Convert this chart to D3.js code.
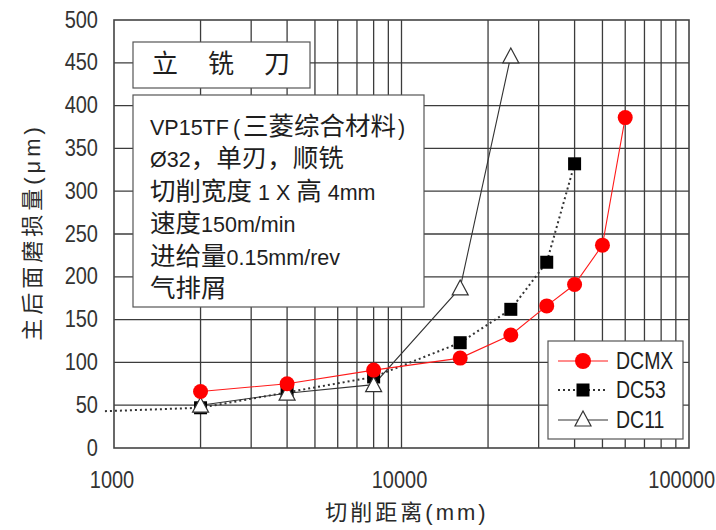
<!DOCTYPE html>
<html>
<head>
<meta charset="utf-8">
<script src="https://cdn.jsdelivr.net/npm/d3@7/dist/d3.min.js"></script>
<style>
  html, body { margin: 0; padding: 0; background: #fff; }
  svg { display: block; }
  text { white-space: pre; }
  .latin { font-family: "Liberation Sans", Arial, sans-serif; }
  .cjk { font-family: "Noto Sans CJK SC", sans-serif; }
  .mixed { font-family: "Liberation Sans", "Noto Sans CJK SC", sans-serif; }
</style>
</head>
<body>
<svg id="chart" width="716" height="530"></svg>
<script>
// Cutting distance (mm) and flank wear (μm) for three carbide grades
const distDCMX = [2000, 4000, 8000, 16000, 24000, 32000, 40000, 50000, 60000];
const wearDCMX = [66, 75, 91, 105, 132, 166, 191, 237, 386];

const distDC53 = [930, 2000, 4000, 8000, 16000, 24000, 32000, 40000];
const wearDC53 = [43, 47, 65, 83, 123, 162, 217, 332];

const distDC11 = [2000, 4000, 8000, 16000, 24000];
const wearDC11 = [50, 64, 74, 187, 458];

const yTicks = [0, 50, 100, 150, 200, 250, 300, 350, 400, 450, 500];
const xTickLabels = [1000, 10000, 100000];
const xGrid = [2000, 3000, 4000, 5000, 6000, 7000, 8000, 9000, 10000,
               20000, 30000, 40000, 50000, 60000, 70000, 80000, 90000];

const titleText = "立铣刀";
const noteLines = [
  "VP15TF(三菱综合材料)",
  "Ø32，单刃，顺铣",
  "切削宽度 1 X 高 4mm",
  "速度150m/min",
  "进给量0.15mm/rev",
  "气排屑"
];
const seriesNames = ["DCMX", "DC53", "DC11"];
const xTitle = "切削距离(mm)";
const yTitle = "主后面磨损量(μm)";

const svg = d3.select("#chart");
const plot = { left: 114, right: 689, top: 20, bottom: 448 };

const x = d3.scaleLog().domain([1000, 100000]).range([plot.left, plot.right]);
const y = d3.scaleLinear().domain([0, 500]).range([plot.bottom, plot.top]);

const gridColor = "#3c3c3c";
const tall = 1.18;   // Latin lettering is drawn slightly condensed / tall

function label(parent, px, py, text, size, anchor, cls, sy, fill) {
  return parent.append("text")
    .attr("class", cls)
    .attr("transform", `translate(${px},${py}) scale(1,${sy})`)
    .attr("text-anchor", anchor)
    .attr("font-size", size)
    .attr("fill", fill || "#333")
    .text(text);
}

// mixed-script line: ideographs set larger than the Latin runs
const cjkRe = /[\u3000-\u9fff\uff00-\uffef]/;
function richLine(parent, px, py, str) {
  const t = parent.append("text").attr("class", "mixed")
    .attr("x", px).attr("y", py).attr("fill", "#1e1e1e");
  const runs = [];
  for (const ch of str) {
    const kind = cjkRe.test(ch) ? "c" : (ch === "(" || ch === ")") ? ch : "l";
    const last = runs[runs.length - 1];
    if (last && last.kind === kind && kind !== "(" && kind !== ")") last.s += ch;
    else runs.push({ kind, s: ch });
  }
  runs.forEach(r => {
    const ts = t.append("tspan").text(r.s);
    if (r.kind === "c") ts.attr("font-size", 25.5);
    else if (r.kind === "(") ts.attr("font-size", 21.5).attr("dx", 4).attr("letter-spacing", 3);
    else if (r.kind === ")") ts.attr("font-size", 21.5).attr("dx", 2);
    else ts.attr("font-size", 21.5);
  });
  return t;
}

// grid
const grid = svg.append("g");
grid.selectAll("line.h").data(yTicks.slice(1, -1)).join("line")
  .attr("x1", plot.left).attr("x2", plot.right)
  .attr("y1", d => y(d)).attr("y2", d => y(d))
  .attr("stroke", gridColor).attr("stroke-width", 1.3);
grid.selectAll("line.v").data(xGrid).join("line")
  .attr("y1", plot.top).attr("y2", plot.bottom)
  .attr("x1", d => x(d)).attr("x2", d => x(d))
  .attr("stroke", gridColor).attr("stroke-width", 1.3);
svg.append("rect")
  .attr("x", plot.left).attr("y", plot.top)
  .attr("width", plot.right - plot.left).attr("height", plot.bottom - plot.top)
  .attr("fill", "none").attr("stroke", "#444").attr("stroke-width", 1.6);

// axis tick labels
yTicks.forEach(v => label(svg, 98, y(v) + 7.5, v, 20, "end", "latin", tall, "#333"));
xTickLabels.forEach(v => {
  const last = v === xTickLabels[xTickLabels.length - 1];
  label(svg, last ? 715 : x(v) - 2, 487.5, v, 20,
        last ? "end" : "middle", "latin", tall, "#333");
});

// title and notes boxes
svg.append("rect").attr("x", 133).attr("y", 42).attr("width", 177).attr("height", 46)
  .attr("fill", "#fff").attr("stroke", "#555").attr("stroke-width", 1.2);
label(svg, 152, 73, titleText, 26, "start", "cjk", 1, "#1e1e1e").attr("letter-spacing", 30);

svg.append("rect").attr("x", 133).attr("y", 95).attr("width", 291).attr("height", 212)
  .attr("fill", "#fff").attr("stroke", "#555").attr("stroke-width", 1.2);
noteLines.forEach((t, i) => richLine(svg, 150, 134.5 + i * 32.5, t));

// series
const line = d3.line().x(d => x(d[0])).y(d => y(d[1]));
const zip = (a, b) => a.map((v, i) => [v, b[i]]);
const dcmx = zip(distDCMX, wearDCMX);
const dc53 = zip(distDC53, wearDC53);
const dc11 = zip(distDC11, wearDC11);
const inDomain = d => d[0] >= 1000;

const triPath = (cx, cy) => `M${cx},${cy - 8}L${cx + 8},${cy + 7}L${cx - 8},${cy + 7}Z`;

svg.append("path").attr("d", line(dc53)).attr("fill", "none")
  .attr("stroke", "#333").attr("stroke-width", 2).attr("stroke-dasharray", "2,3");
svg.append("path").attr("d", line(dc11)).attr("fill", "none")
  .attr("stroke", "#333").attr("stroke-width", 1.1);
svg.append("path").attr("d", line(dcmx)).attr("fill", "none")
  .attr("stroke", "#ff1a1a").attr("stroke-width", 1.1);

svg.selectAll("rect.dc53").data(dc53.filter(inDomain)).join("rect")
  .attr("x", d => x(d[0]) - 6.5).attr("y", d => y(d[1]) - 6.5)
  .attr("width", 13).attr("height", 13).attr("fill", "#000");
svg.selectAll("path.dc11").data(dc11).join("path")
  .attr("d", d => triPath(x(d[0]), y(d[1])))
  .attr("fill", "#fff").attr("stroke", "#333").attr("stroke-width", 1.2);
svg.selectAll("circle.dcmx").data(dcmx).join("circle")
  .attr("cx", d => x(d[0])).attr("cy", d => y(d[1])).attr("r", 7.5)
  .attr("fill", "#ff0000");

// legend
const lg = svg.append("g");
lg.append("rect").attr("x", 548).attr("y", 341).attr("width", 135).attr("height", 98)
  .attr("fill", "#fff").attr("stroke", "#555").attr("stroke-width", 1.2);
const rows = [361, 390, 420];
lg.append("line").attr("x1", 558).attr("x2", 608).attr("y1", rows[0]).attr("y2", rows[0])
  .attr("stroke", "#ff1a1a").attr("stroke-width", 1.1);
lg.append("circle").attr("cx", 583).attr("cy", rows[0]).attr("r", 8).attr("fill", "#ff0000");
lg.append("line").attr("x1", 558).attr("x2", 608).attr("y1", rows[1]).attr("y2", rows[1])
  .attr("stroke", "#333").attr("stroke-width", 2).attr("stroke-dasharray", "2,3");
lg.append("rect").attr("x", 576.5).attr("y", rows[1] - 6.5).attr("width", 13).attr("height", 13).attr("fill", "#000");
lg.append("line").attr("x1", 558).attr("x2", 608).attr("y1", rows[2]).attr("y2", rows[2])
  .attr("stroke", "#333").attr("stroke-width", 1.1);
lg.append("path").attr("d", triPath(583, rows[2] - 1)).attr("fill", "#fff").attr("stroke", "#333").attr("stroke-width", 1.2);
seriesNames.forEach((n, i) => label(lg, 616, rows[i] + 8, n, 19.5, "start", "latin", 1.2, "#1e1e1e"));

// axis titles
label(svg, 407, 520, xTitle, 22, "middle", "mixed", 1, "#2a2a2a").attr("letter-spacing", 3);
svg.append("text").attr("class", "mixed")
  .attr("transform", "translate(40,232) rotate(-90)")
  .attr("text-anchor", "middle").attr("font-size", 22).attr("letter-spacing", 4)
  .attr("fill", "#2a2a2a").text(yTitle);
</script>
</body>
</html>
